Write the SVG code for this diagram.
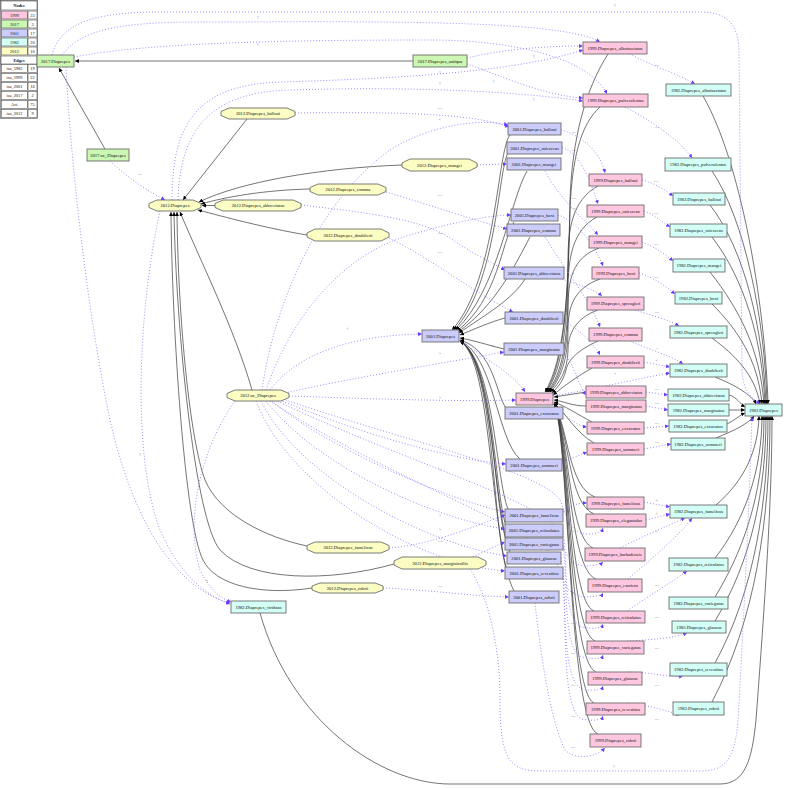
<svg xmlns="http://www.w3.org/2000/svg" width="786" height="788" viewBox="0 0 786 788">
<style>
.n rect,.n polygon{stroke:#6e6e6e;stroke-width:0.9}
.p{fill:#ffc6e0}.g{fill:#ccf7b3}.l{fill:#ccccfa}.c{fill:#d2fff6}.y{fill:#fbfdc3}
text{font-family:"Liberation Serif",serif;font-size:4.6px;text-anchor:middle;fill:#111}
.s{fill:none;stroke:#3a3a3a;stroke-width:0.7;marker-end:url(#ab)}
.d{fill:none;stroke:#9b7bff;stroke-width:0.9;stroke-dasharray:1 2;marker-end:url(#ap)}
.t{font-size:4px;fill:#555}
.lg rect{stroke:#333;stroke-width:0.5}
.lg text{font-size:4.4px}
.h{font-weight:bold}
</style>
<defs>
<marker id="ab" viewBox="0 0 10 10" refX="10" refY="5" markerUnits="userSpaceOnUse" markerWidth="4" markerHeight="4" orient="auto"><path d="M0,0L10,5L0,10z" fill="#000"/></marker>
<marker id="ap" viewBox="0 0 10 10" refX="10" refY="5" markerUnits="userSpaceOnUse" markerWidth="4" markerHeight="4" orient="auto"><path d="M0,0L10,5L0,10z" fill="#6a3cff"/></marker>
</defs>
<rect width="786" height="788" fill="#fff"/>

<g id="legend" class="lg">
<rect x="0.5" y="0.5" width="37" height="118" fill="#fff"/>
<rect x="1" y="1" width="36" height="9" fill="#fff"/><text class="h" x="19" y="7">Nodes</text>
<rect x="1.5" y="11" width="26" height="8" class="p"/><text x="14.5" y="16.5">1999</text><rect x="28" y="11" width="9" height="8" fill="#fff"/><text x="32.5" y="16.5">23</text>
<rect x="1.5" y="20" width="26" height="8" class="g"/><text x="14.5" y="25.5">2017</text><rect x="28" y="20" width="9" height="8" fill="#fff"/><text x="32.5" y="25.5">3</text>
<rect x="1.5" y="29" width="26" height="8" class="l"/><text x="14.5" y="34.5">2001</text><rect x="28" y="29" width="9" height="8" fill="#fff"/><text x="32.5" y="34.5">17</text>
<rect x="1.5" y="38" width="26" height="8" class="c"/><text x="14.5" y="43.5">1982</text><rect x="28" y="38" width="9" height="8" fill="#fff"/><text x="32.5" y="43.5">20</text>
<rect x="1.5" y="47" width="26" height="8" class="y"/><text x="14.5" y="52.5">2012</text><rect x="28" y="47" width="9" height="8" fill="#fff"/><text x="32.5" y="52.5">10</text>
<rect x="1" y="56" width="36" height="8" fill="#fff"/><text class="h" x="19" y="62">Edges</text>
<rect x="1.5" y="64.5" width="26" height="8" fill="#fff"/><text x="14.5" y="70">isa_1982</text><rect x="28" y="64.5" width="9" height="8" fill="#fff"/><text x="32.5" y="70">19</text>
<rect x="1.5" y="73.5" width="26" height="8" fill="#fff"/><text x="14.5" y="79">isa_1999</text><rect x="28" y="73.5" width="9" height="8" fill="#fff"/><text x="32.5" y="79">22</text>
<rect x="1.5" y="82.5" width="26" height="8" fill="#fff"/><text x="14.5" y="88">isa_2001</text><rect x="28" y="82.5" width="9" height="8" fill="#fff"/><text x="32.5" y="88">16</text>
<rect x="1.5" y="91.5" width="26" height="8" fill="#fff"/><text x="14.5" y="97">isa_2017</text><rect x="28" y="91.5" width="9" height="8" fill="#fff"/><text x="32.5" y="97">2</text>
<rect x="1.5" y="100.5" width="26" height="8" fill="#fff"/><text x="14.5" y="106" fill="#7755ff">Art.</text><rect x="28" y="100.5" width="9" height="8" fill="#fff"/><text x="32.5" y="106">75</text>
<rect x="1.5" y="109.5" width="26" height="8" fill="#fff"/><text x="14.5" y="115">isa_2012</text><rect x="28" y="109.5" width="9" height="8" fill="#fff"/><text x="32.5" y="115">9</text>
</g>

<g id="connectors">
<!-- isa_2017 -->
<path class="s" d="M413,61 L75,61"/>
<path class="s" d="M105,149 L59,68"/>
<!-- isa_2012 -->
<path class="s" d="M247,119 L183,200"/>
<path class="s" d="M402,165 C320,168 240,182 199,202"/>
<path class="s" d="M310,189 C265,190 225,197 201,204"/>
<path class="s" d="M215,205.5 L202,205.5"/>
<path class="s" d="M307,235 C265,228 225,217 198,210"/>
<path class="s" d="M252,390 C235,330 200,260 180,212"/>
<path class="s" d="M307,546 C265,537 220,515 205,480 C190,440 178,320 177,212"/>
<path class="s" d="M394,564 C330,582 250,582 220,550 C195,520 176,330 174,212"/>
<path class="s" d="M312,588 C260,596 215,585 203,560 C185,525 172,330 171,212"/>
<!-- isa_2001 -->
<path class="s" d="M510,135 C497,150 497,280 452,330"/>
<path class="s" d="M508,153 C498,170 497,285 454,330"/>
<path class="s" d="M527,171 C510,200 498,290 456,330"/>
<path class="s" d="M514,222 C502,240 498,300 457,331"/>
<path class="s" d="M530,237 C515,265 496,305 458,332"/>
<path class="s" d="M525,279 C512,300 485,315 459,333"/>
<path class="s" d="M505,318 C490,322 472,330 460,335"/>
<path class="s" d="M504,349 C488,345 472,340 460,338"/>
<path class="s" d="M506,408 C496,395 494,350 460,340"/>
<path class="s" d="M520,459 C497,440 494,355 460,341"/>
<path class="s" d="M508,509 C496,480 494,360 460,341"/>
<path class="s" d="M506,526 C494,490 494,360 460,341"/>
<path class="s" d="M506,540 C493,500 494,360 460,341"/>
<path class="s" d="M510,552 C493,510 494,360 460,341"/>
<path class="s" d="M506,568 C492,520 494,360 460,341"/>
<path class="s" d="M514,591 C490,545 493,360 460,341"/>
<!-- isa_1999 -->
<path class="s" d="M608,54 C585,90 572,140 570,200 C568,300 565,360 546,392"/>
<path class="s" d="M600,107 C580,125 572,160 570,210 C568,300 564,360 545,392"/>
<path class="s" d="M598,186 C572,200 568,230 568,260 C568,320 563,370 546,392"/>
<path class="s" d="M597,217 C572,230 568,260 568,290 C568,340 562,375 547,392"/>
<path class="s" d="M599,248 C572,258 568,280 568,310 C568,350 561,378 548,392"/>
<path class="s" d="M600,279 C575,288 568,305 568,330 C568,360 560,380 549,392"/>
<path class="s" d="M598,310 C575,318 568,335 568,350 C568,370 559,384 550,392"/>
<path class="s" d="M598,341 C578,350 568,360 566,370 C563,382 557,388 552,393"/>
<path class="s" d="M592,368 C578,376 565,385 553,395"/>
<path class="s" d="M586,392 L554,397"/>
<path class="s" d="M586,406 C572,406 563,401 554,400"/>
<path class="s" d="M592,422 C577,414 565,406 554,402"/>
<path class="s" d="M594,443 C575,432 565,412 554,403"/>
<path class="s" d="M595,497 C568,487 569,430 554,404"/>
<path class="s" d="M594,514 C568,504 569,430 554,404"/>
<path class="s" d="M593,548 C568,538 569,430 554,404"/>
<path class="s" d="M596,579 C568,569 569,430 554,404"/>
<path class="s" d="M594,611 C568,601 569,430 554,404"/>
<path class="s" d="M595,641 C568,631 569,430 554,404"/>
<path class="s" d="M596,672 C568,662 569,430 554,404"/>
<path class="s" d="M594,703 C568,693 569,430 554,404"/>
<path class="s" d="M598,734 C568,724 569,430 554,404"/>
<!-- isa_1982 -->
<path class="s" d="M703,96 C740,160 765,300 768,404"/>
<path class="s" d="M712,171 C745,220 765,320 767,404"/>
<path class="s" d="M710,205 C745,250 763,330 766,404"/>
<path class="s" d="M712,237 C745,280 762,340 765,404"/>
<path class="s" d="M710,272 C740,310 760,350 764,404"/>
<path class="s" d="M712,304 C738,330 758,360 762,404"/>
<path class="s" d="M712,338 C735,355 755,375 760,404"/>
<path class="s" d="M715,377 C735,385 752,395 756,404"/>
<path class="s" d="M729,395 C737,397 740,404 745,407"/>
<path class="s" d="M729,410 L745,410"/>
<path class="s" d="M727,424 C735,420 740,415 745,413"/>
<path class="s" d="M716,438 C735,430 748,424 754,416"/>
<path class="s" d="M716,505 C745,480 758,450 759,416"/>
<path class="s" d="M715,558 C745,520 762,470 762,416"/>
<path class="s" d="M715,597 C750,540 764,480 764,416"/>
<path class="s" d="M715,621 C752,560 766,490 766,416"/>
<path class="s" d="M715,663 C755,590 768,500 768,416"/>
<path class="s" d="M712,702 C755,620 770,520 770,416"/>
<path class="s" d="M260,613 C290,720 380,784 450,784 L720,784 C745,784 752,760 756,720 C765,600 772,500 772,416"/>

<!-- Art. -->
<path class="d" d="M52,55 C60,25 90,12 160,12 L700,12 C728,12 738,25 739,50 L742,370 C743,392 752,398 760,404"/>
<path class="d" d="M62,55 C80,32 110,22 200,22 C350,22 560,18 600,42"/>
<path class="d" d="M74,57 C150,42 300,40 430,40 C520,40 590,60 607,94"/>
<path class="d" d="M66,67 C70,150 85,300 110,420 C135,530 180,590 230,603"/>
<path class="d" d="M467,58 C500,50 540,46 583,46"/>
<path class="d" d="M467,64 C500,75 540,95 583,98"/>
<path class="d" d="M110,161 C130,180 150,192 165,200"/>
<path class="d" d="M172,200 C172,120 200,85 280,82 C420,78 520,70 583,50"/>
<path class="d" d="M178,200 C180,130 210,92 290,90 C420,86 520,92 583,101"/>
<path class="d" d="M160,211 C140,300 130,450 160,530 C180,575 205,595 230,604"/>
<path class="d" d="M235,401 C200,450 185,520 200,570 C210,590 220,598 231,602"/>
<path class="d" d="M295,113 C380,112 470,112 509,127"/>
<path class="d" d="M477,165 L507,164"/>
<path class="d" d="M386,192 C430,205 480,222 507,229"/>
<path class="d" d="M301,205 C360,212 420,218 450,238 C470,252 490,262 505,270"/>
<path class="d" d="M389,238 C430,258 470,290 513,312"/>
<path class="d" d="M389,548 C430,545 470,528 505,515"/>
<path class="d" d="M383,588 C430,590 470,596 509,597"/>
<path class="d" d="M470,558 C488,550 498,545 505,542"/>
<path class="d" d="M470,569 C490,600 500,650 500,700 C500,760 510,771 540,771 L700,771 C725,771 735,760 738,720 C745,600 750,480 752,417"/>
<path class="d" d="M535,603 C540,650 550,720 565,750 C575,760 595,758 605,748"/>
<path class="d" d="M270,390 C300,350 360,335 422,334"/>
<path class="d" d="M285,393 C350,378 450,362 504,352"/>
<path class="d" d="M289,396 C350,398 450,402 516,400"/>
<path class="d" d="M280,400 C350,430 450,460 506,464"/>
<path class="d" d="M272,401 C330,450 450,500 505,512"/>
<path class="d" d="M266,401 C320,470 440,520 505,529"/>
<path class="d" d="M261,401 C300,480 430,545 507,556"/>
<path class="d" d="M256,401 C290,490 420,565 505,571"/>
<path class="d" d="M280,398 C400,440 540,470 560,500 C566,515 570,532 585,534 C597,535 602,531 603,528"/>
<path class="d" d="M275,400 C400,460 540,500 558,530 C563,548 568,565 585,566 C597,566 602,563 603,562"/>
<path class="d" d="M270,401 C390,480 540,530 556,560 C561,578 566,596 585,597 C597,597 602,595 603,593"/>
<path class="d" d="M563,512 C572,505 578,503 587,503"/>
<path class="d" d="M563,531 C568,560 562,620 582,627 C596,630 602,627 603,624"/>
<path class="d" d="M563,545 C568,580 562,650 582,657 C596,660 602,658 603,655"/>
<path class="d" d="M561,558 C567,600 561,680 582,689 C596,692 602,689 603,686"/>
<path class="d" d="M563,573 C567,620 561,710 582,719 C596,722 602,719 603,716"/>
<path class="d" d="M561,130 C580,135 600,150 605,173"/>
<path class="d" d="M562,148 C580,152 590,180 598,204"/>
<path class="d" d="M545,171 C560,200 585,220 598,235"/>
<path class="d" d="M558,215 C575,220 595,245 603,266"/>
<path class="d" d="M545,237 C565,270 590,300 600,327"/>
<path class="d" d="M562,279 C580,285 595,290 602,296"/>
<path class="d" d="M563,320 C580,330 595,345 600,355"/>
<path class="d" d="M563,352 C575,365 578,385 586,395"/>
<path class="d" d="M459,340 C480,355 515,375 525,392"/>
<path class="d" d="M562,413 C572,420 578,426 587,427"/>
<path class="d" d="M562,463 C572,458 580,455 587,452"/>
<path class="d" d="M630,54 C650,65 680,75 695,84"/>
<path class="d" d="M625,107 C650,120 680,140 692,158"/>
<path class="d" d="M642,180 C655,183 665,190 673,196"/>
<path class="d" d="M644,211 C655,215 662,222 670,227"/>
<path class="d" d="M642,242 C655,247 665,254 673,261"/>
<path class="d" d="M639,273 C655,278 665,286 675,294"/>
<path class="d" d="M635,310 C650,315 670,320 679,326"/>
<path class="d" d="M630,341 C650,350 672,356 683,364"/>
<path class="d" d="M644,362 L670,367"/>
<path class="d" d="M553,396 C600,388 640,378 670,373"/>
<path class="d" d="M646,392 L668,395"/>
<path class="d" d="M646,406 L668,410"/>
<path class="d" d="M644,428 L669,426"/>
<path class="d" d="M644,449 L671,444"/>
<path class="d" d="M644,502 L670,507"/>
<path class="d" d="M646,520 L670,514"/>
<path class="d" d="M620,548 C645,535 670,525 685,518"/>
<path class="d" d="M628,579 C650,560 680,535 692,518"/>
<path class="d" d="M627,611 C650,595 675,580 687,571"/>
<path class="d" d="M627,641 C650,640 675,638 687,633"/>
<path class="d" d="M627,672 C650,672 672,678 683,676"/>
<path class="d" d="M627,703 C650,705 670,712 680,715"/>
<path class="d" d="M262,390 C275,300 320,200 390,150 C430,125 480,118 508,125"/>
<path class="d" d="M266,390 C290,320 340,255 410,235 C460,220 495,215 511,215"/>
<!-- labels -->
<text class="t" x="615" y="7">!</text>
<text class="t" x="258" y="19">!</text>
<text class="t" x="258" y="46">!</text>
<text class="t" x="440" y="74">!</text>
<text class="t" x="440" y="85">!</text>
<text class="t" x="534" y="58">!</text>
<text class="t" x="534" y="101">!</text>
<text class="t" x="494" y="83">!</text>
<text class="t" x="140" y="456">!</text>
<text class="t" x="207" y="583">!</text>
<text class="t" x="614" y="768">!</text>
<text class="t" x="140" y="176">==</text>
<text class="t" x="440" y="110">==</text>
<text class="t" x="440" y="121">&lt;</text>
<text class="t" x="440" y="197">==</text>
<text class="t" x="440" y="235">==</text>
<text class="t" x="440" y="254">==</text>
<text class="t" x="348" y="330">&lt;</text>
<text class="t" x="440" y="355">&gt;</text>
<text class="t" x="440" y="399">&gt;</text>
<text class="t" x="440" y="448">&gt;</text>
<text class="t" x="440" y="471">&gt;</text>
<text class="t" x="440" y="517">&gt;</text>
<text class="t" x="440" y="531">&gt;</text>
<text class="t" x="440" y="543">==</text>
<text class="t" x="440" y="588">==</text>
<text class="t" x="493" y="348">&lt;</text>
<text class="t" x="574" y="134">==</text>
<text class="t" x="574" y="152">==</text>
<text class="t" x="574" y="200">==</text>
<text class="t" x="574" y="210">==</text>
<text class="t" x="573" y="275">&gt;</text>
<text class="t" x="573" y="533">&gt;</text>
<text class="t" x="573" y="564">&gt;</text>
<text class="t" x="573" y="594">&gt;</text>
<text class="t" x="573" y="625">==</text>
<text class="t" x="573" y="655">==</text>
<text class="t" x="573" y="687">==</text>
<text class="t" x="573" y="718">==</text>
<text class="t" x="573" y="749">==</text>
<text class="t" x="657" y="67">==</text>
<text class="t" x="657" y="129">==</text>
<text class="t" x="656" y="183">==</text>
<text class="t" x="656" y="215">==</text>
<text class="t" x="656" y="246">==</text>
<text class="t" x="656" y="279">==</text>
<text class="t" x="657" y="314">==</text>
<text class="t" x="657" y="350">=</text>
<text class="t" x="657" y="362">&lt;</text>
<text class="t" x="615" y="375">&gt;</text>
<text class="t" x="657" y="391">==</text>
<text class="t" x="657" y="405">==</text>
<text class="t" x="657" y="425">==</text>
<text class="t" x="657" y="444">==</text>
<text class="t" x="657" y="502">&lt;</text>
<text class="t" x="657" y="515">&lt;</text>
<text class="t" x="657" y="533">&lt;</text>
<text class="t" x="657" y="587">==</text>
<text class="t" x="657" y="619">==</text>
<text class="t" x="657" y="650">==</text>
<text class="t" x="657" y="687">==</text>
<text class="t" x="657" y="721">==</text>
</g>

<!-- 2017 -->
<g id="n2017" class="n"><rect x="37" y="55" width="37" height="12" class="g"/><text x="55.5" y="62.6">2017.Diaprepes</text></g>
<g id="n2017_antiqua" class="n"><rect x="413" y="55" width="54" height="12" class="g"/><text x="440" y="62.6">2017.Diaprepes_antiqua</text></g>
<g id="n2017_nc" class="n"><rect x="87" y="149" width="42" height="12" class="g"/><text x="108" y="156.6">2017.nc_Diaprepes</text></g>

<!-- 2012 -->
<g id="n2012" class="n"><polygon class="y" points="149,203.5 157,200 193,200 201,203.5 201,207.5 193,211 157,211 149,207.5"/><text x="175" y="207.1">2012.Diaprepes</text></g>
<g id="n2012_balloui" class="n"><polygon class="y" points="221,111.5 229,108 287,108 295,111.5 295,115.5 287,119 229,119 221,115.5"/><text x="258" y="115.1">2012.Diaprepes_balloui</text></g>
<g id="n2012_mangei" class="n"><polygon class="y" points="402,163 410,159 469,159 477,163 477,167 469,171 410,171 402,167"/><text x="439.5" y="166.6">2012.Diaprepes_mangei</text></g>
<g id="n2012_comma" class="n"><polygon class="y" points="310,187.5 318,184 378,184 386,187.5 386,191.5 378,195 318,195 310,191.5"/><text x="348" y="191.1">2012.Diaprepes_comma</text></g>
<g id="n2012_abbreviatus" class="n"><polygon class="y" points="215,203.5 223,200 293,200 301,203.5 301,207.5 293,211 223,211 215,207.5"/><text x="258" y="207.1">2012.Diaprepes_abbreviatus</text></g>
<g id="n2012_doublierii" class="n"><polygon class="y" points="307,233 315,229 381,229 389,233 389,237 381,241 315,241 307,237"/><text x="348" y="236.6">2012.Diaprepes_doublierii</text></g>
<g id="n2012_nc" class="n"><polygon class="y" points="227,393.5 235,390 281,390 289,393.5 289,397.5 281,401 235,401 227,397.5"/><text x="258" y="397.1">2012.nc_Diaprepes</text></g>
<g id="n2012_famelicus" class="n"><polygon class="y" points="307,545.5 315,542 381,542 389,545.5 389,549.5 381,553 315,553 307,549.5"/><text x="348" y="549.1">2012.Diaprepes_famelicus</text></g>
<g id="n2012_marginicollis" class="n"><polygon class="y" points="394,561 402,557 478,557 486,561 486,565 478,569 402,569 394,565"/><text x="440" y="564.6">2012.Diaprepes_marginicollis</text></g>
<g id="n2012_rohrii" class="n"><polygon class="y" points="312,586 320,583 375,583 383,586 383,590 375,593 320,593 312,590"/><text x="347.5" y="589.6">2012.Diaprepes_rohrii</text></g>

<!-- 2001 -->
<g id="n2001" class="n"><rect x="422" y="330" width="37" height="12" class="l"/><text x="440.5" y="337.6">2001.Diaprepes</text></g>
<g id="n2001_balloui" class="n"><rect x="508" y="123" width="53" height="12" class="l"/><text x="534.5" y="130.6">2001.Diaprepes_balloui</text></g>
<g id="n2001_rufescens" class="n"><rect x="507" y="142" width="55" height="12" class="l"/><text x="534.5" y="149.6">2001.Diaprepes_rufescens</text></g>
<g id="n2001_mangei" class="n"><rect x="507" y="158" width="54" height="12" class="l"/><text x="534" y="165.6">2001.Diaprepes_mangei</text></g>
<g id="n2001_boxi" class="n"><rect x="511" y="209" width="47" height="12" class="l"/><text x="534.5" y="216.6">2001.Diaprepes_boxi</text></g>
<g id="n2001_comma" class="n"><rect x="507" y="224" width="53" height="12" class="l"/><text x="533.5" y="231.6">2001.Diaprepes_comma</text></g>
<g id="n2001_abbreviatus" class="n"><rect x="504" y="267" width="60" height="12" class="l"/><text x="534" y="274.6">2001.Diaprepes_abbreviatus</text></g>
<g id="n2001_doublierii" class="n"><rect x="505" y="312" width="58" height="12" class="l"/><text x="534" y="319.6">2001.Diaprepes_doublierii</text></g>
<g id="n2001_marginatus" class="n"><rect x="504" y="343" width="60" height="12" class="l"/><text x="534" y="350.6">2001.Diaprepes_marginatus</text></g>
<g id="n2001_excavatus" class="n"><rect x="505" y="407" width="58" height="12" class="l"/><text x="534" y="414.6">2001.Diaprepes_excavatus</text></g>
<g id="n2001_sommeri" class="n"><rect x="506" y="459" width="56" height="12" class="l"/><text x="534" y="466.6">2001.Diaprepes_sommeri</text></g>
<g id="n2001_famelicus" class="n"><rect x="505" y="509" width="58" height="13" class="l"/><text x="534" y="517.1">2001.Diaprepes_famelicus</text></g>
<g id="n2001_reticulatus" class="n"><rect x="505" y="524" width="58" height="13" class="l"/><text x="534" y="532.1">2001.Diaprepes_reticulatus</text></g>
<g id="n2001_variegatus" class="n"><rect x="505" y="538" width="58" height="12" class="l"/><text x="534" y="545.6">2001.Diaprepes_variegatus</text></g>
<g id="n2001_glaucus" class="n"><rect x="507" y="552" width="54" height="12" class="l"/><text x="534" y="559.6">2001.Diaprepes_glaucus</text></g>
<g id="n2001_revestitus" class="n"><rect x="505" y="567" width="58" height="12" class="l"/><text x="534" y="574.6">2001.Diaprepes_revestitus</text></g>
<g id="n2001_rohrii" class="n"><rect x="509" y="591" width="50" height="12" class="l"/><text x="534" y="598.6">2001.Diaprepes_rohrii</text></g>

<!-- 1999 -->
<g id="n1999" class="n"><rect x="516" y="393" width="37" height="12" class="p"/><text x="534.5" y="400.6">1999.Diaprepes</text></g>
<g id="n1999_albofasciatus" class="n"><rect x="583" y="42" width="64" height="12" class="p"/><text x="615" y="49.6">1999.Diaprepes_albofasciatus</text></g>
<g id="n1999_pulverulentus" class="n"><rect x="583" y="94" width="65" height="13" class="p"/><text x="615.5" y="102.1">1999.Diaprepes_pulverulentus</text></g>
<g id="n1999_balloui" class="n"><rect x="589" y="174" width="53" height="12" class="p"/><text x="615.5" y="181.6">1999.Diaprepes_balloui</text></g>
<g id="n1999_rufescens" class="n"><rect x="587" y="205" width="57" height="12" class="p"/><text x="615.5" y="212.6">1999.Diaprepes_rufescens</text></g>
<g id="n1999_mangei" class="n"><rect x="589" y="236" width="53" height="12" class="p"/><text x="615.5" y="243.6">1999.Diaprepes_mangei</text></g>
<g id="n1999_boxi" class="n"><rect x="592" y="267" width="47" height="12" class="p"/><text x="615.5" y="274.6">1999.Diaprepes_boxi</text></g>
<g id="n1999_sprengleri" class="n"><rect x="587" y="297" width="57" height="13" class="p"/><text x="615.5" y="305.1">1999.Diaprepes_sprengleri</text></g>
<g id="n1999_comma" class="n"><rect x="589" y="328" width="53" height="13" class="p"/><text x="615.5" y="336.1">1999.Diaprepes_comma</text></g>
<g id="n1999_doublierii" class="n"><rect x="587" y="356" width="57" height="12" class="p"/><text x="615.5" y="363.6">1999.Diaprepes_doublierii</text></g>
<g id="n1999_abbreviatus" class="n"><rect x="586" y="386" width="60" height="12" class="p"/><text x="616" y="393.6">1999.Diaprepes_abbreviatus</text></g>
<g id="n1999_marginatus" class="n"><rect x="586" y="400" width="60" height="12" class="p"/><text x="616" y="407.6">1999.Diaprepes_marginatus</text></g>
<g id="n1999_excavatus" class="n"><rect x="587" y="422" width="57" height="12" class="p"/><text x="615.5" y="429.6">1999.Diaprepes_excavatus</text></g>
<g id="n1999_sommeri" class="n"><rect x="587" y="443" width="57" height="12" class="p"/><text x="615.5" y="450.6">1999.Diaprepes_sommeri</text></g>
<g id="n1999_famelicus" class="n"><rect x="587" y="497" width="57" height="12" class="p"/><text x="615.5" y="504.6">1999.Diaprepes_famelicus</text></g>
<g id="n1999_elegantulus" class="n"><rect x="586" y="514" width="60" height="13" class="p"/><text x="616" y="522.1">1999.Diaprepes_elegantulus</text></g>
<g id="n1999_barbadensis" class="n"><rect x="585" y="548" width="60" height="13" class="p"/><text x="615" y="556.1">1999.Diaprepes_barbadensis</text></g>
<g id="n1999_esuriens" class="n"><rect x="588" y="579" width="54" height="13" class="p"/><text x="615" y="587.1">1999.Diaprepes_esuriens</text></g>
<g id="n1999_reticulatus" class="n"><rect x="586" y="611" width="59" height="12" class="p"/><text x="615.5" y="618.6">1999.Diaprepes_reticulatus</text></g>
<g id="n1999_variegatus" class="n"><rect x="587" y="641" width="57" height="13" class="p"/><text x="615.5" y="649.1">1999.Diaprepes_variegatus</text></g>
<g id="n1999_glaucus" class="n"><rect x="588" y="672" width="54" height="13" class="p"/><text x="615" y="680.1">1999.Diaprepes_glaucus</text></g>
<g id="n1999_revestitus" class="n"><rect x="586" y="703" width="59" height="12" class="p"/><text x="615.5" y="710.6">1999.Diaprepes_revestitus</text></g>
<g id="n1999_rohrii" class="n"><rect x="590" y="734" width="51" height="13" class="p"/><text x="615.5" y="742.1">1999.Diaprepes_rohrii</text></g>

<!-- 1982 -->
<g id="n1982" class="n"><rect x="745" y="404" width="37" height="12" class="c"/><text x="763.5" y="411.6">1982.Diaprepes</text></g>
<g id="n1982_viridans" class="n"><rect x="231" y="601" width="55" height="12" class="c"/><text x="258.5" y="608.6">1982.Diaprepes_viridans</text></g>
<g id="n1982_albofasciatus" class="n"><rect x="666" y="84" width="65" height="12" class="c"/><text x="698.5" y="91.6">1982.Diaprepes_albofasciatus</text></g>
<g id="n1982_pulverulentus" class="n"><rect x="665" y="158" width="66" height="13" class="c"/><text x="698" y="166.1">1982.Diaprepes_pulverulentus</text></g>
<g id="n1982_balloui" class="n"><rect x="673" y="193" width="52" height="12" class="c"/><text x="699" y="200.6">1982.Diaprepes_balloui</text></g>
<g id="n1982_rufescens" class="n"><rect x="670" y="224" width="57" height="13" class="c"/><text x="698.5" y="232.1">1982.Diaprepes_rufescens</text></g>
<g id="n1982_mangei" class="n"><rect x="673" y="259" width="52" height="13" class="c"/><text x="699" y="267.1">1982.Diaprepes_mangei</text></g>
<g id="n1982_boxi" class="n"><rect x="675" y="292" width="47" height="12" class="c"/><text x="698.5" y="299.6">1982.Diaprepes_boxi</text></g>
<g id="n1982_sprengleri" class="n"><rect x="670" y="326" width="57" height="12" class="c"/><text x="698.5" y="333.6">1982.Diaprepes_sprengleri</text></g>
<g id="n1982_doublierii" class="n"><rect x="670" y="364" width="57" height="13" class="c"/><text x="698.5" y="372.1">1982.Diaprepes_doublierii</text></g>
<g id="n1982_abbreviatus" class="n"><rect x="668" y="389" width="61" height="12" class="c"/><text x="698.5" y="396.6">1982.Diaprepes_abbreviatus</text></g>
<g id="n1982_marginatus" class="n"><rect x="668" y="404" width="61" height="12" class="c"/><text x="698.5" y="411.6">1982.Diaprepes_marginatus</text></g>
<g id="n1982_excavatus" class="n"><rect x="669" y="420" width="58" height="12" class="c"/><text x="698" y="427.6">1982.Diaprepes_excavatus</text></g>
<g id="n1982_sommeri" class="n"><rect x="671" y="438" width="54" height="12" class="c"/><text x="698" y="445.6">1982.Diaprepes_sommeri</text></g>
<g id="n1982_famelicus" class="n"><rect x="670" y="505" width="57" height="13" class="c"/><text x="698.5" y="513.1">1982.Diaprepes_famelicus</text></g>
<g id="n1982_reticulatus" class="n"><rect x="669" y="558" width="59" height="13" class="c"/><text x="698.5" y="566.1">1982.Diaprepes_reticulatus</text></g>
<g id="n1982_variegatus" class="n"><rect x="669" y="597" width="59" height="12" class="c"/><text x="698.5" y="604.6">1982.Diaprepes_variegatus</text></g>
<g id="n1982_glaucus" class="n"><rect x="672" y="621" width="54" height="12" class="c"/><text x="699" y="628.6">1982.Diaprepes_glaucus</text></g>
<g id="n1982_revestitus" class="n"><rect x="670" y="663" width="57" height="13" class="c"/><text x="698.5" y="671.1">1982.Diaprepes_revestitus</text></g>
<g id="n1982_rohrii" class="n"><rect x="673" y="702" width="51" height="13" class="c"/><text x="698.5" y="710.1">1982.Diaprepes_rohrii</text></g>
</svg>
